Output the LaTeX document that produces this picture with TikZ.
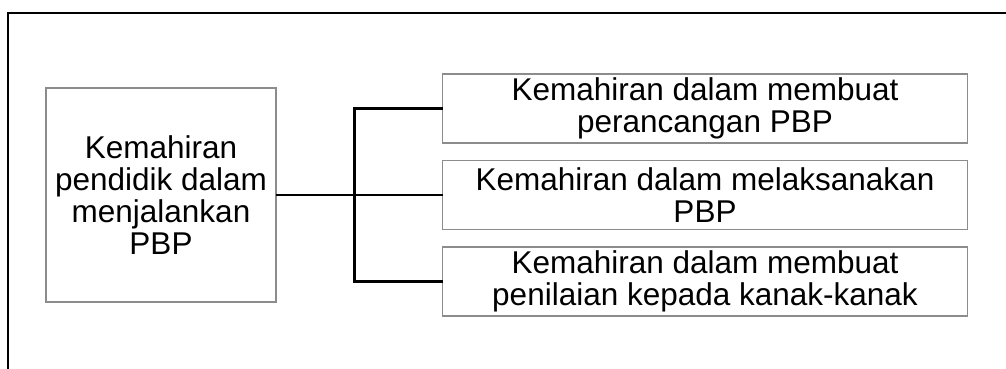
\documentclass[tikz,border=0pt]{standalone}
\usepackage{fontspec}
\setmainfont{Liberation Sans}
\usetikzlibrary{positioning}

\begin{document}
\begin{tikzpicture}[x=1pt, y=-1pt, node distance=17.5pt,
        box/.style={draw=black!45, line width=1.4pt, align=center, inner sep=0pt, outer sep=0pt,
            font=\fontsize{31.5}{32}\selectfont},
        mainbox/.style={box, minimum width=230pt, minimum height=214pt},
        skillbox/.style={box, minimum width=525pt, minimum height=69pt},
        conn/.style={draw=black, line width=2.6pt}]
    \useasboundingbox (0,0) rectangle (1006,369);
    % cropped outer frame
    \draw[line width=1.8pt] (8,369) -- (8,13) -- (1006,13);

    \node[mainbox] (main) at (161,195) {Kemahiran \\ pendidik dalam \\ menjalankan \\ PBP};
    \node[skillbox] (plan) at (705,108.5) {Kemahiran dalam membuat \\ perancangan PBP};
    \node[skillbox] (run) [below=of plan] {Kemahiran dalam melaksanakan \\ PBP};
    \node[skillbox] (assess) [below=of run] {Kemahiran dalam membuat \\ penilaian kepada kanak-kanak};

    \path (run.west) -- ++(-88,0) coordinate (split);
    \draw[conn] (main.east) -- (split);
    \draw[conn] (plan.west) -| (split) |- (assess.west);
    \draw[conn] (split) -- (run.west);
\end{tikzpicture}
\end{document}
